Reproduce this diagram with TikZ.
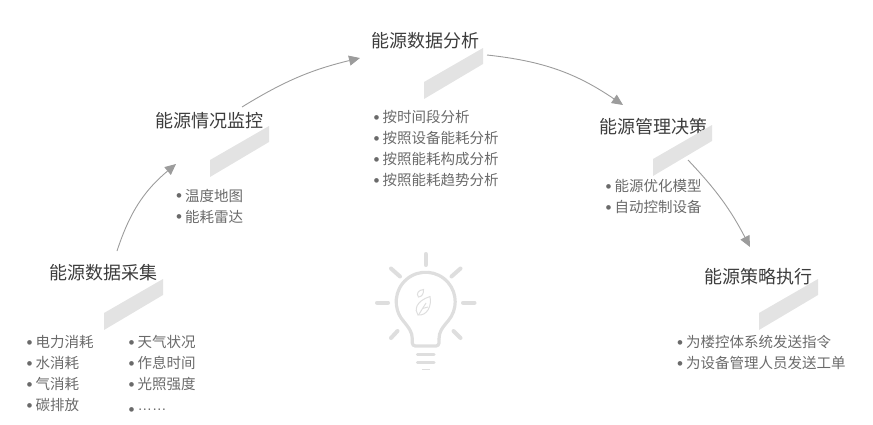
\documentclass[tikz,border=0pt]{standalone}
\usepackage{xcolor}
\usepackage{fontspec}
\setmainfont{Noto Sans CJK SC}
\newfontfamily\bulletfont{Liberation Sans}
\usetikzlibrary{arrows.meta, positioning}
\definecolor{titlegray}{HTML}{3C3C3C}
\definecolor{textgray}{HTML}{6A6A6A}
\definecolor{arrowgray}{HTML}{9C9C9C}
\definecolor{bandgray}{HTML}{E3E3E3}
\definecolor{bulbgray}{HTML}{DEDEDE}
\newcommand{\dotmark}{\raisebox{-0.8pt}{\bulletfont\fontsize{17}{21}\selectfont •}}
\newcommand{\itm}[1]{\makebox[9pt][l]{\dotmark}#1}

\begin{document}
\begin{tikzpicture}[
	x=1pt, y=-1pt,
	title/.style={text=titlegray, inner sep=0pt, font=\fontsize{18}{20}\selectfont},
	list/.style={text=textgray, inner sep=0pt, align=left, anchor=west, font=\fontsize{14.5}{21}\selectfont},
	arrow/.style={-{Triangle[length=11pt,width=10pt]}, arrowgray, line width=0.9pt},
	band/.pic={\fill[bandgray] (0,0) -- (59,-34) -- (59,-18) -- (0,17) -- cycle;},
	bulb/.style={bulbgray, line width=3.2pt, line cap=round},
	ray/.style={bulbgray, line width=4pt, line cap=round},
	leaf/.style={bulbgray, line width=1pt}
	]
	\useasboundingbox (0,0) rectangle (873,425);
	
	% Titles
	\node[title] (collect) at (103.5,273) {能源数据采集};
	\node[title] (monitor) at (209.5,121) {能源情况监控};
	\node[title] (analysis) at (425,40.5) {能源数据分析};
	\node[title] (decide) at (653,127) {能源管理决策};
	\node[title] (execute) at (758.5,277) {能源策略执行};
	
	% Bands
	\pic at (104,313) {band};
	\pic at (210,160) {band};
	\pic at (424,82) {band};
	\pic at (653,159) {band};
	\pic at (759,313) {band};
	
	% Lists
	\node[list] (collectA) at (26.5,373.5) {\itm{电力消耗}\\\itm{水消耗}\\\itm{气消耗}\\\itm{碳排放}};
	\node[list] (collectB) at (128.5,373.5) {\itm{天气状况}\\\itm{作息时间}\\\itm{光照强度}\\\vphantom{碳}\makebox[9pt][l]{\smash{\raisebox{-4pt}{\dotmark}}}{\bulletfont ……}};
	\node[list] (monitorlist) at (176,206) {\itm{温度地图}\\\itm{能耗雷达}};
	\node[list] (analysislist) at (373.5,148.5) {\itm{按时间段分析}\\\itm{按照设备能耗分析}\\\itm{按照能耗构成分析}\\\itm{按照能耗趋势分析}};
	\node[list] (decidelist) at (605.5,196.5) {\itm{能源优化模型}\\\itm{自动控制设备}};
	\node[list] (executelist) at (677,352.5) {\itm{为楼控体系统发送指令}\\\itm{为设备管理人员发送工单}};
	
	% Arrows
	\draw[arrow] ([shift={(13.5,-22)}]collect.center) to[bend left=16] ([shift={(-33.5,43)}]monitor.center);
	\draw[arrow] ([shift={(32.5,-14)}]monitor.center) to[bend left=9] ([shift={(-65,17.5)}]analysis.center);
	\draw[arrow] ([shift={(62,14.5)}]analysis.center) to[bend left=14] ([shift={(-30,-22)}]decide.center);
	\draw[arrow] ([shift={(35,33)}]decide.center) to[bend left=8] ([shift={(-8.5,-30)}]execute.center);
	
	% Bulb
	\draw[ray] (425.7,254) -- (425.7,265);
	\draw[ray] (377,302.7) -- (388,302.7);
	\draw[ray] (463,302.7) -- (474.5,302.7);
	\draw[ray] (391,268.5) -- (400,276.5);
	\draw[ray] (460.5,268.5) -- (451.5,276.5);
	\draw[ray] (391,338) -- (397.5,331);
	\draw[ray] (460.5,338) -- (453.5,331);
	\draw[bulb] (403.1,320.7) arc[start angle=140, end angle=400, radius=29.5]
		.. controls (442,328) and (439,332) .. (439,339);
	\draw[bulb] (403.1,320.7) .. controls (409,328) and (412.3,332) .. (412.3,339);
	\draw[bulb, rounded corners=3pt] (412.3,339) -- (412.3,346) -- (439,346) -- (439,339);
	\draw[bulb] (417.5,354.5) -- (434,354.5);
	\draw[bulb] (417.5,362.5) -- (434,362.5);
	\draw[bulbgray, line width=1.5pt] (421.5,369.5) -- (430,369.5);
	
	% Leaf
	\draw[leaf] (430,296.5) .. controls (416,301) and (414,310) .. (418,315)
		.. controls (427,316) and (432,306) .. cycle;
	\draw[leaf] (418.5,315) -- (426,303);
	\draw[leaf] (422.5,308.5) -- (428,307);
	\draw[leaf] (423.5,289.5) .. controls (418,290) and (416,294) .. (418.5,297)
		.. controls (422,297) and (424,293) .. cycle;
\end{tikzpicture}
\end{document}
